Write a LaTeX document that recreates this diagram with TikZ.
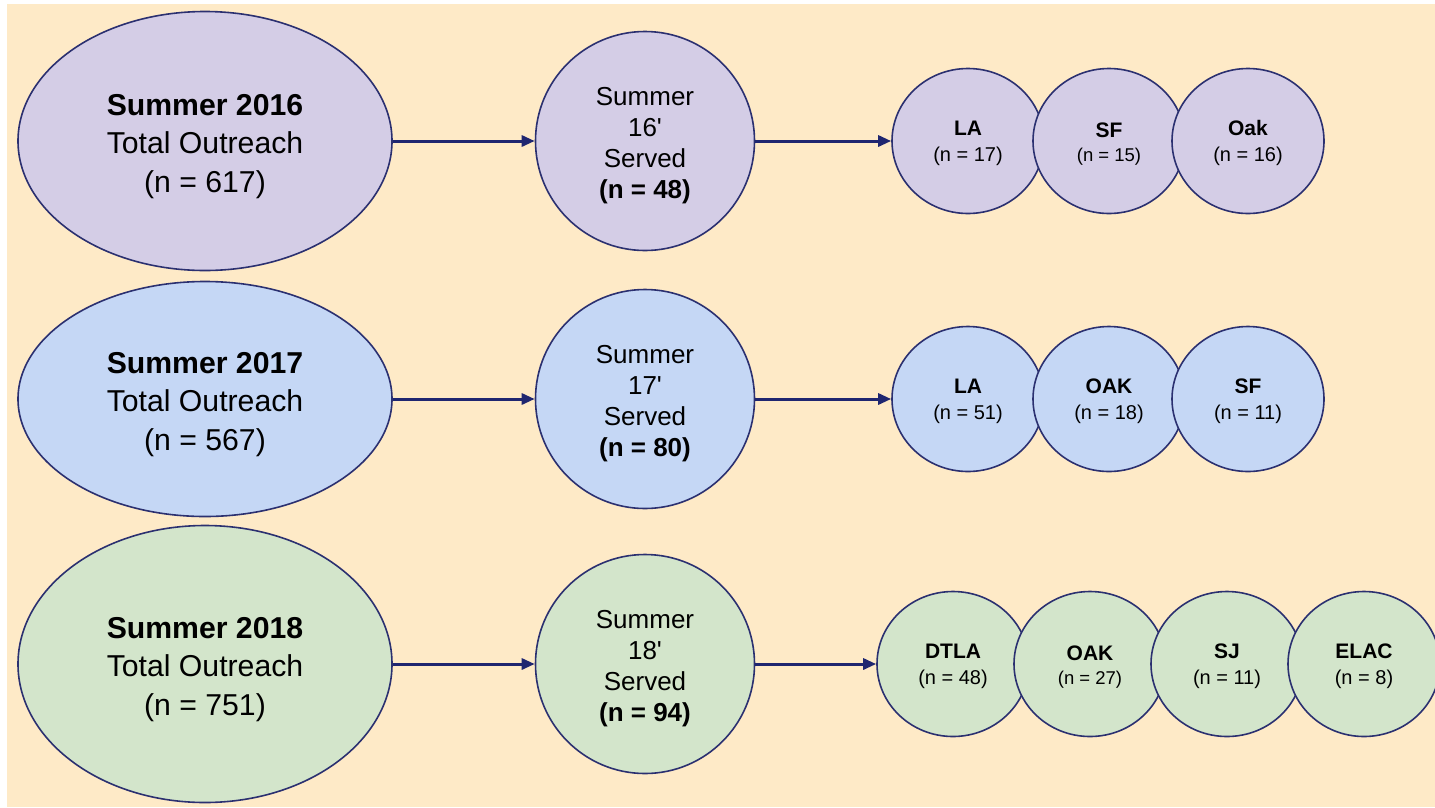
\documentclass[tikz,border=0pt]{standalone}
\usepackage{fontspec}
\setmainfont{Liberation Sans}[Ligatures=TeXOff]
\usetikzlibrary{shapes.geometric,arrows.meta}

\definecolor{paper}{HTML}{FEEAC7}
\definecolor{lilac}{HTML}{D4CDE6}
\definecolor{sky}{HTML}{C5D7F5}
\definecolor{mint}{HTML}{D3E5CB}
\definecolor{navy}{HTML}{2B3070}
\definecolor{arrowblue}{HTML}{1F2670}

\tikzset{
  bubble/.style={ellipse, draw=navy, line width=1.6pt, inner sep=0pt, align=center, text=black},
  outreach/.style={bubble, minimum width=374pt, font=\fontsize{30.2}{38.5}\selectfont},
  served/.style={bubble, minimum width=219pt, minimum height=219pt, font=\fontsize{26}{31}\selectfont},
  site/.style={bubble, minimum width=152pt, minimum height=145pt, font=\fontsize{21}{26}\selectfont},
  flow/.style={draw=arrowblue, line width=3pt, -{Triangle[length=13pt,width=11pt]}},
}
% struts on the first line push each text block a little below the centre
\newcommand{\toptotal}{\rule{0pt}{32pt}}
\newcommand{\topserved}{\rule{0pt}{27pt}}
\newcommand{\topsite}{\rule{0pt}{20pt}}
\newcommand{\sitelabel}[2]{\topsite\textbf{#1}\\{\fontsize{20}{26}\selectfont #2}}
\newcommand{\smallcount}[2]{\topsite\textbf{#1}\\[-2pt]{\fontsize{18.5}{26}\selectfont #2}}

\begin{document}
\begin{tikzpicture}[x=1pt,y=-1pt]
  \useasboundingbox (0,0) rectangle (1435,807);
  \clip (0,0) rectangle (1435,807);
  \fill[white] (0,0) rectangle (1435,807);
  \fill[paper] (7,4) rectangle (1435,807);

  % 2016
  \node[outreach, minimum height=259pt, fill=lilac] (tot16) at (205,141)
    {\toptotal\textbf{Summer 2016}\\Total Outreach\\(n = 617)};
  \node[served, fill=lilac] (srv16) at (645,141)
    {\topserved Summer\\16'\\Served\\\textbf{(n = 48)}};
  \node[site, fill=lilac] (la16)  at (968,141)  {\sitelabel{LA}{(n = 17)}};
  \node[site, fill=lilac] (sf16)  at (1109,141) {\smallcount{SF}{(n = 15)}};
  \node[site, fill=lilac] (oak16) at (1248,141) {\sitelabel{Oak}{(n = 16)}};
  \draw[flow] (tot16) -- (srv16);
  \draw[flow] (srv16) -- (la16);

  % 2017
  \node[outreach, minimum height=235pt, fill=sky] (tot17) at (205,399)
    {\toptotal\textbf{Summer 2017}\\Total Outreach\\(n = 567)};
  \node[served, fill=sky] (srv17) at (645,399)
    {\topserved Summer\\17'\\Served\\\textbf{(n = 80)}};
  \node[site, fill=sky] (la17)  at (968,399)  {\sitelabel{LA}{(n = 51)}};
  \node[site, fill=sky] (oak17) at (1109,399) {\sitelabel{OAK}{(n = 18)}};
  \node[site, fill=sky] (sf17)  at (1248,399) {\sitelabel{SF}{(n = 11)}};
  \draw[flow] (tot17) -- (srv17);
  \draw[flow] (srv17) -- (la17);

  % 2018
  \node[outreach, minimum height=277pt, fill=mint] (tot18) at (205,664)
    {\toptotal\textbf{Summer 2018}\\Total Outreach\\(n = 751)};
  \node[served, fill=mint] (srv18) at (645,664)
    {\topserved Summer\\18'\\Served\\\textbf{(n = 94)}};
  \node[site, fill=mint] (dtla18) at (953,664)  {\sitelabel{DTLA}{(n = 48)}};
  \node[site, fill=mint] (oak18)  at (1090,664) {\smallcount{OAK}{(n = 27)}};
  \node[site, fill=mint] (sj18)   at (1227,664) {\sitelabel{SJ}{(n = 11)}};
  \node[site, fill=mint] (elac18) at (1364,664) {\sitelabel{ELAC}{(n = 8)}};
  \draw[flow] (tot18) -- (srv18);
  \draw[flow] (srv18) -- (dtla18);
\end{tikzpicture}
\end{document}
